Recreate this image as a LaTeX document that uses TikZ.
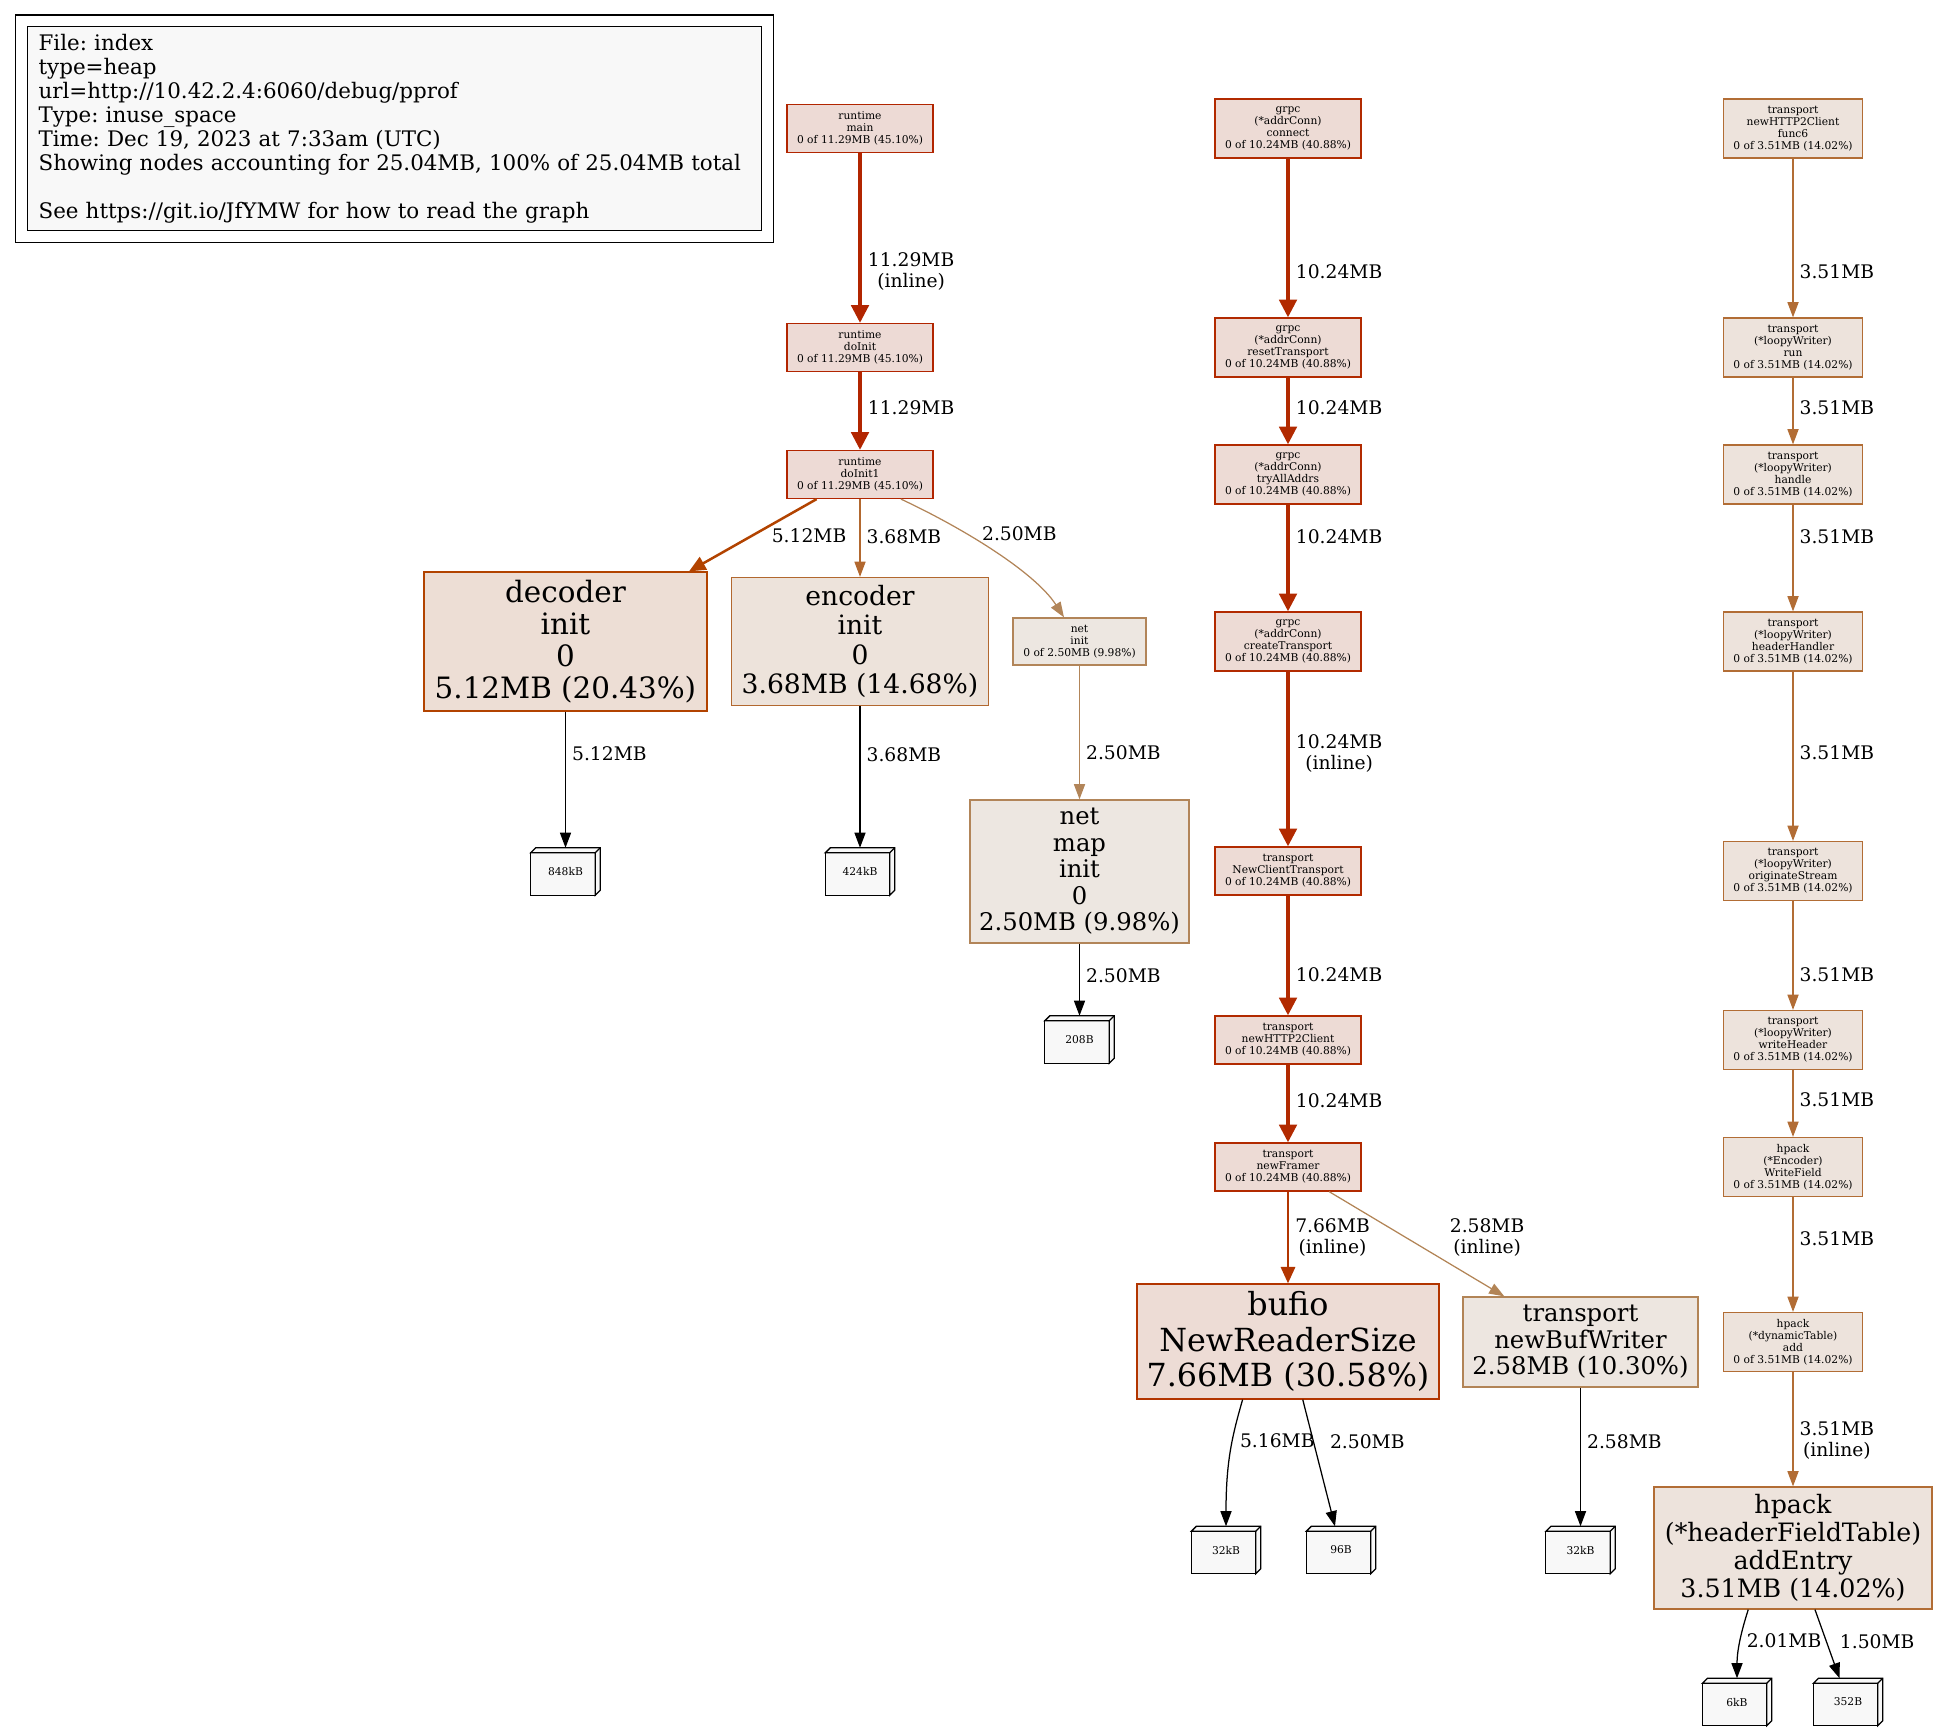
\documentclass[tikz,border=0pt]{standalone}
\usepackage{fontspec}
\setmainfont{DejaVu Serif}
\usetikzlibrary{arrows.meta,calc,fit,backgrounds}
\frenchspacing

% heat colours (line / fill)
\definecolor{hotline}{HTML}{B22500}  \definecolor{hotfill}{HTML}{EDDAD5}
\definecolor{grpcline}{HTML}{B22A00} \definecolor{grpcfill}{HTML}{EDDBD5}
\definecolor{bufline}{HTML}{B23500}  \definecolor{buffill}{HTML}{EDDCD5}
\definecolor{decline}{HTML}{B24300}  \definecolor{decfill}{HTML}{EDDED5}
\definecolor{encline}{HTML}{B2682F}  \definecolor{encfill}{HTML}{EDE3DB}
\definecolor{hpline}{HTML}{B26D35}   \definecolor{hpfill}{HTML}{EDE3DC}
\definecolor{bwline}{HTML}{B28456}   \definecolor{bwfill}{HTML}{EDE6E0}
\definecolor{netline}{HTML}{B28559}  \definecolor{netfill}{HTML}{EDE7E1}
\definecolor{leaffill}{HTML}{F8F8F8}

\newcommand\fnsmall{\fontsize{10.7pt}{12pt}\selectfont}
\newcommand\edgefont{\fontsize{18.7pt}{21pt}\selectfont}
\newcommand\legendfont{\fontsize{21.4pt}{24pt}\selectfont}
\newcommand\sizebufio{\fontsize{31.8pt}{35.5pt}\selectfont}
\newcommand\sizedec{\fontsize{29.4pt}{32pt}\selectfont}
\newcommand\sizeenc{\fontsize{26.6pt}{29.5pt}\selectfont}
\newcommand\sizeentry{\fontsize{25.3pt}{28pt}\selectfont}
\newcommand\sizenet{\fontsize{24.3pt}{26.5pt}\selectfont}

% box3d outline behind a leaf node
\newcommand\leafcube[1]{%
  \begin{pgfonlayer}{background}
    \draw[line width=1.25pt, fill=leaffill] (#1.south west) rectangle ($(#1.north east)+(-5,5)$);
    \draw[line width=1.25pt, fill=leaffill] ($(#1.north west)+(0,5)$) -- ($(#1.north west)+(5,0)$)
      -- (#1.north east) -- ($(#1.south east)+(0,-5)$) -- ($(#1.south east)+(-5,0)$)
      -- ($(#1.north east)+(-5,5)$) -- cycle;
    \draw[line width=1.25pt] ($(#1.north east)+(-5,5)$) -- (#1.north east);
  \end{pgfonlayer}}

\tikzset{
  fn/.style={draw, align=center, inner sep=0pt, minimum width=146pt, minimum height=48pt,
    font=\fnsmall, line width=1.25pt},
  four/.style={minimum height=59pt},
  big/.style={draw, align=center, inner sep=0pt, line width=1.25pt},
  leaf/.style={inner sep=0pt, minimum width=69pt, minimum height=47pt, font=\fnsmall},
  elab/.style={font=\edgefont, align=center, inner sep=0pt, anchor=west, xshift=6pt},
  hot/.style={draw=hotline, fill=hotfill},
  grpc/.style={draw=grpcline, fill=grpcfill},
  buf/.style={draw=bufline, fill=buffill},
  dec/.style={draw=decline, fill=decfill},
  enc/.style={draw=encline, fill=encfill},
  hp/.style={draw=hpline, fill=hpfill},
  bw/.style={draw=bwline, fill=bwfill},
  net/.style={draw=netline, fill=netfill},
  lk/.style={-{Triangle[length=14pt 1, width=8pt 2.5]}, line width=1.25pt},
  e45/.style={lk, draw=hotline, line width=3.75pt},
  e41/.style={lk, draw=grpcline, line width=3.75pt},
  e31/.style={lk, draw=bufline, line width=2.5pt},
  e20/.style={lk, draw=decline, line width=2.5pt},
  e15/.style={lk, draw=encline},
  e14/.style={lk, draw=hpline},
  e10/.style={lk, draw=bwline},
  e9/.style={lk, draw=netline}
}

\begin{document}
\begin{tikzpicture}[x=1pt, y=-1pt]
  \useasboundingbox (0,0) rectangle (1938,1731);

  % 1. legend
  \node[draw, fill=leaffill, line width=1.25pt, anchor=north west, minimum width=734pt,
    minimum height=204pt, text width=712pt, align=left, inner sep=0pt, font=\legendfont]
    (legend) at (27,26) {File: index\\ type=heap\\ url=http://10.42.2.4:6060/debug/pprof\\
    Type: inuse\_space\\ Time: Dec 19, 2023 at 7:33am (UTC)\\
    Showing nodes accounting for 25.04MB, 100\% of 25.04MB total\\[24pt]
    See https://git.io/JfYMW for how to read the graph};
  \node[draw, line width=1.25pt, fit=(legend), inner xsep=11.5pt, inner ysep=11pt] (legendframe) {};

  % 2. runtime column
  \node[fn, hot] (main) at (860,128.5) {runtime\\main\\0 of 11.29MB (45.10\%)};
  \node[fn, hot] (doinit) at (860,347.5) {runtime\\doInit\\0 of 11.29MB (45.10\%)};
  \node[fn, hot] (doinit1) at (860,474.5) {runtime\\doInit1\\0 of 11.29MB (45.10\%)};
  \node[big, dec, minimum width=283pt, minimum height=139pt, font=\sizedec] (decoder)
    at (565.5,641.5) {decoder\\init\\0\\5.12MB (20.43\%)};
  \node[big, enc, minimum width=257pt, minimum height=128pt, font=\sizeenc] (encoder)
    at (860,641.5) {encoder\\init\\0\\3.68MB (14.68\%)};
  \node[fn, net, minimum width=133pt, minimum height=47pt] (netinit) at (1079.5,641.5)
    {net\\init\\0 of 2.50MB (9.98\%)};
  \node[big, net, minimum width=219pt, minimum height=143pt, font=\sizenet] (netmap)
    at (1079.5,871.5) {net\\map\\init\\0\\2.50MB (9.98\%)};
  \node[leaf] (leafdec) at (565.5,871.5) {848kB};
  \node[leaf] (leafenc) at (860,871.5) {424kB};
  \node[leaf] (leafnet) at (1079.5,1039.5) {208B};

  % 3. grpc / transport column
  \node[fn, four, grpc] (connect) at (1288,128.5) {grpc\\(*addrConn)\\connect\\0 of 10.24MB (40.88\%)};
  \node[fn, four, grpc] (reset) at (1288,347.5) {grpc\\(*addrConn)\\resetTransport\\0 of 10.24MB (40.88\%)};
  \node[fn, four, grpc] (tryall) at (1288,474.5) {grpc\\(*addrConn)\\tryAllAddrs\\0 of 10.24MB (40.88\%)};
  \node[fn, four, grpc] (create) at (1288,641.5) {grpc\\(*addrConn)\\createTransport\\0 of 10.24MB (40.88\%)};
  \node[fn, grpc] (newclient) at (1288,871) {transport\\NewClientTransport\\0 of 10.24MB (40.88\%)};
  \node[fn, grpc] (newhttp) at (1288,1040) {transport\\newHTTP2Client\\0 of 10.24MB (40.88\%)};
  \node[fn, grpc] (framer) at (1288,1167) {transport\\newFramer\\0 of 10.24MB (40.88\%)};
  \node[big, buf, minimum width=302pt, minimum height=115pt, font=\sizebufio] (bufio)
    at (1288,1341.5) {bufio\\NewReaderSize\\7.66MB (30.58\%)};
  \node[big, bw, minimum width=235pt, minimum height=90pt, font=\sizenet] (bufwriter)
    at (1580.5,1342) {transport\\newBufWriter\\2.58MB (10.30\%)};
  \node[leaf] (leafrd) at (1226,1550) {32kB};
  \node[leaf] (leafsz) at (1341,1550) {96B};
  \node[leaf] (leafbw) at (1580.5,1550) {32kB};

  % 4. loopyWriter / hpack column
  \node[fn, four, hp, minimum width=139pt] (func6) at (1793,128.5) {transport\\newHTTP2Client\\func6\\0 of 3.51MB (14.02\%)};
  \node[fn, four, hp, minimum width=139pt] (run) at (1793,347.5) {transport\\(*loopyWriter)\\run\\0 of 3.51MB (14.02\%)};
  \node[fn, four, hp, minimum width=139pt] (handle) at (1793,474.5) {transport\\(*loopyWriter)\\handle\\0 of 3.51MB (14.02\%)};
  \node[fn, four, hp, minimum width=139pt] (hdrhandler) at (1793,641.5) {transport\\(*loopyWriter)\\headerHandler\\0 of 3.51MB (14.02\%)};
  \node[fn, four, hp, minimum width=139pt] (origstream) at (1793,871) {transport\\(*loopyWriter)\\originateStream\\0 of 3.51MB (14.02\%)};
  \node[fn, four, hp, minimum width=139pt] (writehdr) at (1793,1040) {transport\\(*loopyWriter)\\writeHeader\\0 of 3.51MB (14.02\%)};
  \node[fn, four, hp, minimum width=139pt] (writefield) at (1793,1167) {hpack\\(*Encoder)\\WriteField\\0 of 3.51MB (14.02\%)};
  \node[fn, four, hp, minimum width=139pt] (dyntable) at (1793,1342) {hpack\\(*dynamicTable)\\add\\0 of 3.51MB (14.02\%)};
  \node[big, hp, minimum width=278pt, minimum height=122pt, font=\sizeentry] (addentry)
    at (1793,1548) {hpack\\(*headerFieldTable)\\addEntry\\3.51MB (14.02\%)};
  \node[leaf] (leaf6k) at (1737,1702) {6kB};
  \node[leaf] (leaf352) at (1848,1702) {352B};

  \leafcube{leafdec} \leafcube{leafenc} \leafcube{leafnet}
  \leafcube{leafrd} \leafcube{leafsz} \leafcube{leafbw}
  \leafcube{leaf6k} \leafcube{leaf352}

  % 5. edges, runtime column
  \draw[e45] (main) -- node[elab, pos=0.70] {11.29MB\\(inline)} (doinit);
  \draw[e45] (doinit) -- node[elab, pos=0.46] {11.29MB} (doinit1);
  \draw[e20] (doinit1) -- node[elab, pos=0.51, xshift=13pt] {5.12MB} (decoder);
  \draw[e15] (doinit1) -- node[elab, pos=0.48] {3.68MB} (encoder);
  \draw[e9] (doinit1.-31) .. controls +(60,28) and +(-45,-70) .. node[elab, pos=0.35, xshift=9pt] {2.50MB} (netinit);
  \draw[lk] (decoder) -- node[elab, pos=0.31] {5.12MB} (leafdec);
  \draw[lk] (encoder) -- node[elab, pos=0.34] {3.68MB} (leafenc);
  \draw[e9] (netinit) -- node[elab, pos=0.65] {2.50MB} (netmap);
  \draw[lk] (netmap) -- node[elab, pos=0.44] {2.50MB} (leafnet);

  % 6. edges, grpc column
  \draw[e41] (connect) -- node[elab, pos=0.714] {10.24MB} (reset);
  \draw[e41] (reset) -- node[elab, pos=0.45] {10.24MB} (tryall);
  \draw[e41] (tryall) -- node[elab, pos=0.30] {10.24MB} (create);
  \draw[e41] (create) -- node[elab, pos=0.47] {10.24MB\\(inline)} (newclient);
  \draw[e41] (newclient) -- node[elab, pos=0.66] {10.24MB} (newhttp);
  \draw[e41] (newhttp) -- node[elab, pos=0.46] {10.24MB} (framer);
  \draw[e31] (framer) -- node[elab, pos=0.5] {7.66MB\\(inline)} (bufio);
  \draw[e10] (framer) -- node[elab, pos=0.44, xshift=37pt] {2.58MB\\(inline)} (bufwriter);
  \draw[lk] (bufio.-128) .. controls +(-10,35) and +(0,-90) .. node[elab, pos=0.4, xshift=1pt] {5.16MB} (leafrd);
  \draw[lk] (bufio) -- node[elab, pos=0.33, xshift=10pt] {2.50MB} (leafsz);
  \draw[lk] (bufwriter) -- node[elab, pos=0.39] {2.58MB} (leafbw);

  % 7. edges, hpack column
  \draw[e14] (func6) -- node[elab, pos=0.714] {3.51MB} (run);
  \draw[e14] (run) -- node[elab, pos=0.45] {3.51MB} (handle);
  \draw[e14] (handle) -- node[elab, pos=0.30] {3.51MB} (hdrhandler);
  \draw[e14] (hdrhandler) -- node[elab, pos=0.48] {3.51MB} (origstream);
  \draw[e14] (origstream) -- node[elab, pos=0.68] {3.51MB} (writehdr);
  \draw[e14] (writehdr) -- node[elab, pos=0.45] {3.51MB} (writefield);
  \draw[e14] (writefield) -- node[elab, pos=0.36] {3.51MB} (dyntable);
  \draw[e14] (dyntable) -- node[elab, pos=0.60] {3.51MB\\(inline)} (addentry);
  \draw[lk] (addentry.-126) .. controls +(-8,25) and +(0,-50) .. node[elab, pos=0.45] {2.01MB} (leaf6k);
  \draw[lk] (addentry) -- node[elab, pos=0.46, xshift=7pt] {1.50MB} (leaf352);

\end{tikzpicture}
\end{document}
